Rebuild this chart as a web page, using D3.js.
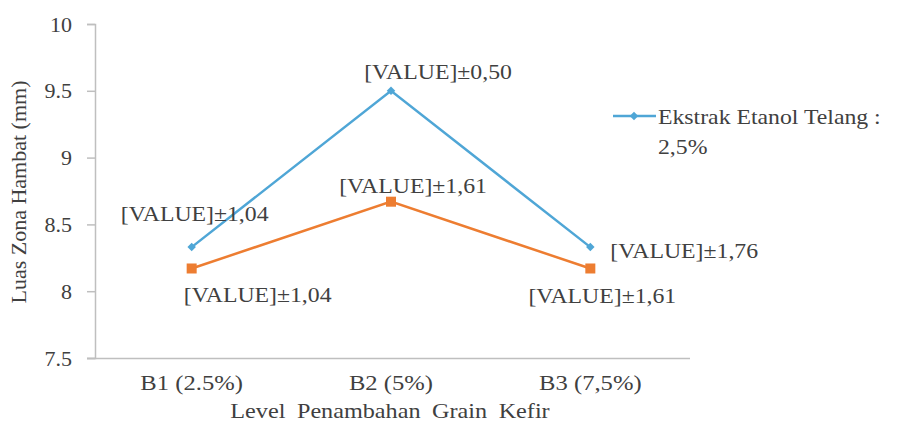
<!DOCTYPE html>
<html><head><meta charset="utf-8">
<script src="https://cdn.jsdelivr.net/npm/d3@7"></script>
<style>
html,body{margin:0;padding:0;background:#fff;}
svg text{font-family:"Times New Roman","Liberation Serif",Tinos,"DejaVu Serif",serif !important;fill:#404040;}
</style></head>
<body><svg id="chart" width="903" height="428"></svg>
<script>
const categories = ["B1 (2.5%)", "B2 (5%)", "B3 (7,5%)"];
const blueValues = [8.33, 9.5, 8.33];
const orangeValues = [8.17, 8.67, 8.17];
const blueLabels = ["[VALUE]±1,04", "[VALUE]±0,50", "[VALUE]±1,76"];
const orangeLabels = ["[VALUE]±1,04", "[VALUE]±1,61", "[VALUE]±1,61"];
const yTicks = [7.5, 8, 8.5, 9, 9.5, 10];
const yTickLabels = ["7.5", "8", "8.5", "9", "9.5", "10"];
const legendLines = ["Ekstrak Etanol Telang :", "2,5%"];
const xTitle = "Level Penambahan Grain Kefir";
const yTitle = "Luas Zona Hambat (mm)";

// layout (label offsets from their point: dx, dy, anchor)
const blueLabelPos = [[3, -26, "middle"], [47, -12, "middle"], [20, 11, "start"]];
const orangeLabelPos = [[66, 34, "middle"], [22, -9, "middle"], [12, 35, "middle"]];
const BLUE = "#4FA6D6", ORANGE = "#ED7D31", SX = 1.08;

const svg = d3.select("#chart");
const x = d3.scaleBand().domain(categories).range([92, 690]);
const y = d3.scaleLinear().domain([7.5, 10]).range([358, 24]);
const cx = c => x(c) + x.bandwidth() / 2;

function txt(g, s, px, py, anchor, size, sx) {
  return g.append("text")
    .attr("transform", `translate(${px},${py}) scale(${sx},1)`)
    .attr("text-anchor", anchor)
    .style("font-size", size + "px")
    .text(s);
}

// y axis
const yAxis = svg.append("g").attr("transform", "translate(95,0)")
  .call(d3.axisLeft(y).tickValues(yTicks).tickSize(8).tickFormat((d, i) => yTickLabels[i]));
yAxis.attr("font-family", null);
yAxis.select(".domain").attr("stroke", "#BFBFBF").attr("stroke-width", 1.5);
yAxis.selectAll(".tick line").attr("stroke", "#BFBFBF").attr("stroke-width", 1.5);
yAxis.selectAll(".tick text").attr("x", -23).style("font-size", "22px").attr("fill", "#404040");

// x axis
const xAxis = svg.append("g").attr("transform", `translate(0,${y(7.5)})`)
  .call(d3.axisBottom(x).tickSize(0).tickFormat(() => ""));
xAxis.select(".domain").attr("stroke", "#BFBFBF").attr("stroke-width", 1.5).attr("d", `M87,0.5H690`);
categories.forEach(c => txt(svg, c, cx(c), 390, "middle", 22, 1.12));

// titles
txt(svg, xTitle, 390, 418, "middle", 22, 1.1).style("word-spacing", "5px");
svg.append("text").attr("transform", `translate(26,192) rotate(-90)`)
  .attr("text-anchor", "middle").style("font-size", "22px").text(yTitle);

// lines
const line = vals => d3.line().x((d, i) => cx(categories[i])).y(d => y(d))(vals);
svg.append("path").attr("d", line(orangeValues)).attr("fill", "none")
  .attr("stroke", ORANGE).attr("stroke-width", 2.5);
svg.append("path").attr("d", line(blueValues)).attr("fill", "none")
  .attr("stroke", BLUE).attr("stroke-width", 2.5);

// markers
svg.selectAll(".bm").data(blueValues).enter().append("path")
  .attr("d", d3.symbol().type(d3.symbolSquare).size(36))
  .attr("transform", (d, i) => `translate(${cx(categories[i])},${y(d)}) rotate(45)`)
  .attr("fill", BLUE);
svg.selectAll(".om").data(orangeValues).enter().append("rect")
  .attr("x", (d, i) => cx(categories[i]) - 5).attr("y", d => y(d) - 5)
  .attr("width", 10).attr("height", 10).attr("fill", ORANGE);

// data labels
blueValues.forEach((v, i) => {
  const p = blueLabelPos[i];
  txt(svg, blueLabels[i], cx(categories[i]) + p[0], y(v) + p[1], p[2], 22, SX);
});
orangeValues.forEach((v, i) => {
  const p = orangeLabelPos[i];
  txt(svg, orangeLabels[i], cx(categories[i]) + p[0], y(v) + p[1], p[2], 22, SX);
});

// legend
svg.append("line").attr("x1", 613).attr("x2", 656).attr("y1", 116).attr("y2", 116)
  .attr("stroke", BLUE).attr("stroke-width", 2.5);
svg.append("path").attr("d", d3.symbol().type(d3.symbolSquare).size(36))
  .attr("transform", "translate(634,116) rotate(45)").attr("fill", BLUE);
txt(svg, legendLines[0], 658, 124, "start", 22, SX);
txt(svg, legendLines[1], 658, 154, "start", 22, SX);
</script></body></html>
